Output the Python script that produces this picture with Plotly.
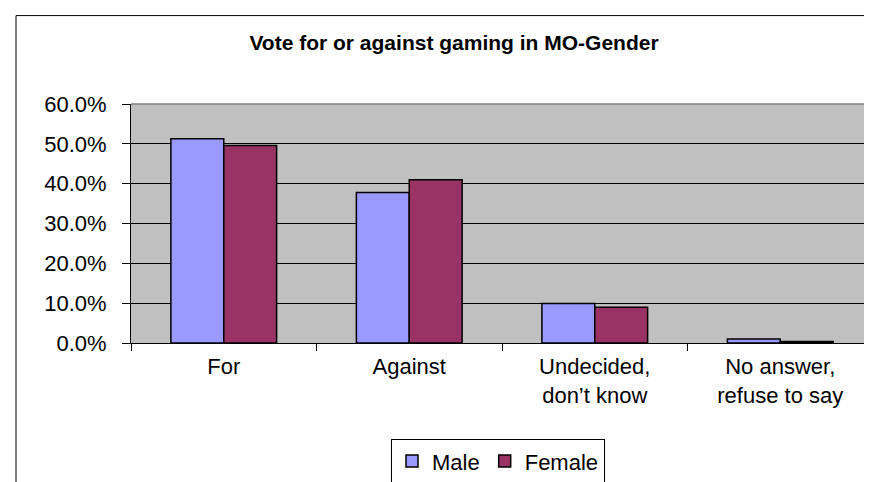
import plotly.graph_objects as go

categories = ["For", "Against", "Undecided,<br>don\u2019t know", "No answer,<br>refuse to say"]
male = [51.3, 37.8, 9.9, 1.0]
female = [49.6, 41.0, 9.0, 0.4]
y_ticks = [0, 10, 20, 30, 40, 50, 60]
y_tick_labels = ["0.0%", "10.0%", "20.0%", "30.0%", "40.0%", "50.0%", "60.0%"]

FONT = "Liberation Sans, Arial, sans-serif"

fig = go.Figure()
fig.add_trace(go.Bar(name="Male", x=categories, y=male,
                     marker=dict(color="#9999FF", line=dict(color="black", width=1.5))))
fig.add_trace(go.Bar(name="Female", x=categories, y=female,
                     marker=dict(color="#993366", line=dict(color="black", width=1.5))))

W, H = 872, 482
L, R, T, B = 123, 7, 96, 140
pw = W - L - R
ph = H - T - B

def px_x(x):
    return (x - L) / pw

def px_y(y):
    return (H - B - y) / ph

fig.update_layout(
    width=W, height=H,
    margin=dict(l=L, r=R, t=T, b=B, pad=0),
    paper_bgcolor="white",
    plot_bgcolor="#C0C0C0",
    barmode="group",
    bargap=0.43,
    bargroupgap=0,
    font=dict(family=FONT, size=22, color="black"),
    title=dict(text="<b>Vote for or against gaming in MO-Gender</b>",
               font=dict(family=FONT, size=21, color="black"),
               x=px_x(446), xref="paper", xanchor="center",
               y=1 - 35 / H, yref="container", yanchor="middle"),
    xaxis=dict(showline=True, linecolor="black", linewidth=1,
               ticks="outside", tickson="boundaries", ticklen=7, tickcolor="black",
               showgrid=False, tickfont=dict(size=22), ticklabelstandoff=4),
    yaxis=dict(range=[0, 60], tickvals=y_ticks, ticktext=y_tick_labels,
               showline=True, linecolor="black", linewidth=1,
               ticks="outside", ticklen=8, tickcolor="black",
               showgrid=True, gridcolor="black", gridwidth=1,
               zeroline=False, tickfont=dict(size=22), ticklabelstandoff=11),
    legend=dict(orientation="h", x=px_x(490), xanchor="center",
                y=px_y(441), yanchor="top",
                bordercolor="black", borderwidth=1, bgcolor="white",
                font=dict(size=22), itemwidth=30),
    showlegend=True,
)

# plot-area border (top and right) in gray
fig.add_shape(type="line", xref="paper", yref="paper", x0=0, x1=1, y0=1, y1=1,
              line=dict(color="#808080", width=1.5))
fig.add_shape(type="line", xref="paper", yref="paper", x0=1, x1=1, y0=0, y1=1,
              line=dict(color="#808080", width=1.5))
# outer chart frame (left and top edges visible)
fx = px_x(8)
fy = px_y(5)
fig.add_shape(type="line", xref="paper", yref="paper", x0=fx, x1=px_x(880), y0=fy, y1=fy,
              line=dict(color="black", width=1))
fig.add_shape(type="line", xref="paper", yref="paper", x0=fx, x1=fx, y0=fy, y1=px_y(490),
              line=dict(color="black", width=1))

fig.write_html("out.html")
